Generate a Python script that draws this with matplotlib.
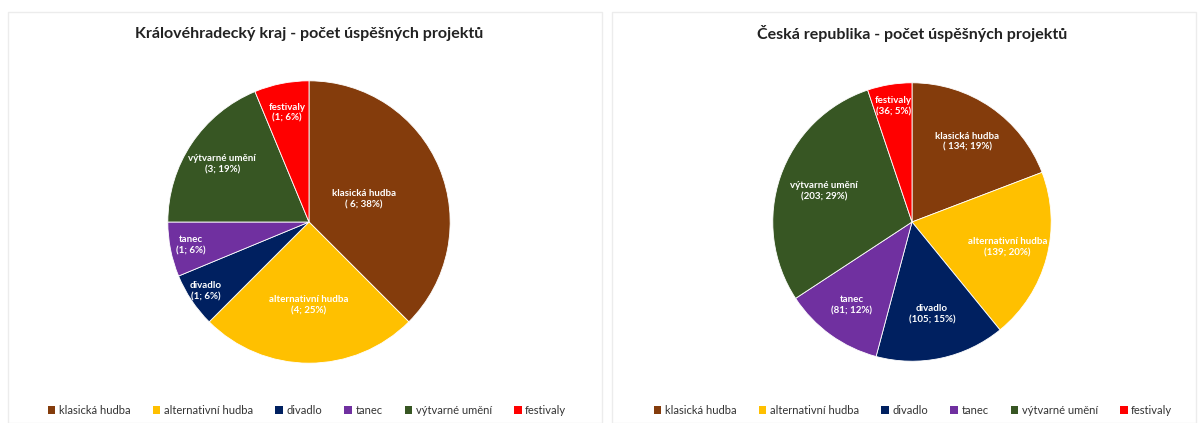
import numpy as np
import matplotlib.pyplot as plt
from matplotlib.patches import Rectangle, Patch

categories = ["klasická hudba", "alternativní hudba", "divadlo", "tanec",
              "výtvarné umění", "festivaly"]
colors = ["#843C0C", "#FFC000", "#002060", "#7030A0", "#375623", "#FF0000"]

kraj_values = [6, 4, 1, 1, 3, 1]
kraj_labels = ["klasická hudba\n( 6; 38%)", "alternativní hudba\n(4; 25%)",
               "divadlo\n(1; 6%)", "tanec\n(1; 6%)",
               "výtvarné umění\n(3; 19%)", "festivaly\n(1; 6%)"]

cr_values = [134, 139, 105, 81, 203, 36]
cr_labels = ["klasická hudba\n( 134; 19%)", "alternativní hudba\n(139; 20%)",
             "divadlo\n(105; 15%)", "tanec\n(81; 12%)",
             "výtvarné umění\n(203; 29%)", "festivaly\n(36; 5%)"]

# label distance from centre (fraction of radius), per slice
kraj_dist = [0.42, 0.59, 0.88, 0.85, 0.74, 0.79]
cr_dist = [0.70, 0.71, 0.68, 0.74, 0.67, 0.84]

W, H = 1198, 423
plt.rcParams["font.family"] = ["Lato", "DejaVu Sans"]
fig = plt.figure(figsize=(W / 100, H / 100), dpi=100)

# faint chart-area borders
for x0, x1 in [(8, 602), (612, 1196)]:
    fig.patches.append(Rectangle((x0 / W, 0), (x1 - x0) / W, (H - 12) / H,
                                 transform=fig.transFigure, fill=False,
                                 edgecolor="#ececec", linewidth=1))


def draw_pie(cx, cy, r, values, labels, dists, title, legend_x):
    ax = fig.add_axes([(cx - r) / W, (H - cy - r) / H, 2 * r / W, 2 * r / H])
    wedges, _ = ax.pie(values, colors=colors, startangle=90, counterclock=False,
                       wedgeprops=dict(edgecolor="white", linewidth=0.6))
    for w, lab, d in zip(wedges, labels, dists):
        ang = np.deg2rad((w.theta1 + w.theta2) / 2)
        ax.text(d * np.cos(ang), d * np.sin(ang), lab, ha="center", va="center",
                color="white", fontsize=7, fontweight="bold", linespacing=1.3)
    ax.set_xlim(-1.02, 1.02)
    ax.set_ylim(-1.02, 1.02)
    fig.text(cx / W, (H - 34) / H, title, ha="center", va="center",
             fontsize=11.5, fontweight="bold", color="#222222")
    handles = [Patch(facecolor=c, edgecolor="none") for c in colors]
    fig.legend(handles, categories, loc="center", ncol=6, frameon=False,
               bbox_to_anchor=(legend_x / W, (H - 410) / H), fontsize=8,
               handlelength=0.7, handleheight=0.7, handletextpad=0.3,
               columnspacing=2.0, labelcolor="#333333")


draw_pie(309, 222, 144, kraj_values, kraj_labels, kraj_dist,
         "Královéhradecký kraj - počet úspěšných projektů", 307)
draw_pie(912, 222, 142, cr_values, cr_labels, cr_dist,
         "Česká republika - počet úspěšných projektů", 913)

fig.savefig("out.png", dpi=100)
